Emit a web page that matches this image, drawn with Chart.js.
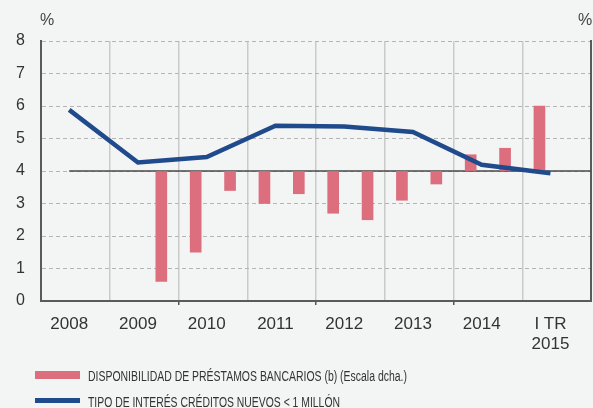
<!DOCTYPE html>
<html>
<head>
<meta charset="utf-8">
<script src="https://cdn.jsdelivr.net/npm/chart.js@4.4.0/dist/chart.umd.min.js"></script>
<style>
  html, body { margin: 0; padding: 0; background: #f3f4f4; }
  #wrap { position: relative; width: 593px; height: 408px; overflow: hidden; }
  #c { position: absolute; left: 0; top: 0; }
  .box { position: absolute; left: 35px; width: 45px; }
  .txt { position: absolute; left: 88px; font-family: "Liberation Sans", Arial, sans-serif;
         font-size: 14px; color: #333; white-space: nowrap; line-height: 1; transform-origin: 0 0; }
</style>
</head>
<body>
<div id="wrap">
  <canvas id="c" width="593" height="408"></canvas>
  <div class="box" style="top:371px;height:8px;background:#dc6e7e"></div>
  <div class="txt" id="t1" data-w="319" style="top:369px">DISPONIBILIDAD DE PRÉSTAMOS BANCARIOS (b) (Escala dcha.)</div>
  <div class="box" style="top:398px;height:5px;background:#1f4a8c"></div>
  <div class="txt" id="t2" data-w="252" style="top:395px">TIPO DE INTERÉS CRÉDITOS NUEVOS &lt; 1 MILLÓN</div>
</div>
<script>
// years on the axis (one column each)
const years = ['2008', '2009', '2010', '2011', '2012', '2013', '2014', ['I TR', '2015']];
// interest rate on new loans < 1 million, %, left scale
const tipoInteres = [5.88, 4.26, 4.43, 5.39, 5.37, 5.20, 4.19, 3.93];
// half-year periods for the loan availability bars
const periodos = ['2009 S2', '2010 S1', '2010 S2', '2011 S1', '2011 S2', '2012 S1', '2012 S2',
                  '2013 S1', '2013 S2', '2014 S1', '2014 S2', '2015 T1'];
// availability of bank loans, right scale (net %)
const disponibilidad = [-34, -25, -6, -10, -7, -13, -15, -9, -4, 5, 7, 20];

const LABEL_POS = 0.41;   // where the year label sits inside its column
const FIRST_BAR = 1.75;   // second half of 2009
const isInt = v => Math.abs(v - Math.round(v)) < 1e-6;

const linePts = tipoInteres.map((v, i) => ({ x: i + LABEL_POS, y: v }));
const barPts = disponibilidad.map((v, i) => ({ x: FIRST_BAR + i * 0.5, y: v }));

// squeeze the legend text to the condensed width of the original
document.querySelectorAll('.txt').forEach(el => {
  const w = el.getBoundingClientRect().width;
  el.style.transform = 'scaleX(' + (el.dataset.w / w) + ')';
});

const extras = {
  id: 'extras',
  beforeDatasetsDraw(chart) {
    const { ctx, chartArea, scales } = chart;
    const y0 = scales.y2.getPixelForValue(0);
    ctx.save();
    ctx.strokeStyle = '#4a4a4a';
    ctx.lineWidth = 1.5;
    ctx.beginPath();
    ctx.moveTo(scales.x.getPixelForValue(LABEL_POS), y0);
    ctx.lineTo(chartArea.right, y0);
    ctx.stroke();
    ctx.restore();
  },
  afterDraw(chart) {
    const ctx = chart.ctx;
    ctx.save();
    ctx.fillStyle = '#444';
    ctx.font = '16px "Liberation Sans", Arial, sans-serif';
    ctx.textAlign = 'center';
    ctx.textBaseline = 'middle';
    ctx.fillText('%', 47, 21);
    ctx.fillText('%', 585, 21);
    ctx.restore();
  }
};

new Chart(document.getElementById('c'), {
  type: 'bar',
  data: {
    datasets: [
      {
        type: 'line',
        data: linePts,
        yAxisID: 'y',
        borderColor: '#1f4a8c',
        borderWidth: 4.5,
        pointRadius: 0,
        tension: 0,
        order: 1
      },
      {
        type: 'bar',
        data: barPts,
        yAxisID: 'y2',
        backgroundColor: '#dc6e7e',
        barThickness: 11,
        order: 2
      }
    ]
  },
  options: {
    responsive: false,
    animation: false,
    devicePixelRatio: 1,
    layout: { padding: { top: 41, left: 0, right: 0, bottom: 0 } },
    plugins: { legend: { display: false }, tooltip: { enabled: false } },
    scales: {
      x: {
        type: 'linear',
        min: 0,
        max: 8,
        offset: false,
        afterBuildTicks(axis) {
          const t = [];
          for (let k = 0; k <= 8; k++) t.push({ value: k });
          years.forEach((_, i) => t.push({ value: i + LABEL_POS }));
          t.sort((a, b) => a.value - b.value);
          axis.ticks = t;
        },
        afterFit(axis) {
          axis.height = 107;
          axis.paddingLeft = 0;
          axis.paddingRight = 0;
        },
        grid: {
          offset: false,
          color: c => (c.tick && isInt(c.tick.value) && c.tick.value > 0 && c.tick.value < 8) ? '#cacaca' : 'rgba(0,0,0,0)',
          lineWidth: 1.5,
          tickColor: c => (c.tick && [2, 4, 6].includes(c.tick.value)) ? '#555' : 'rgba(0,0,0,0)',
          tickLength: 4
        },
        border: { display: true, color: '#5a5a5a', width: 2 },
        ticks: {
          autoSkip: false,
          maxRotation: 0,
          padding: 9,
          color: '#333',
          font: { family: '"Liberation Sans", Arial, sans-serif', size: 17 },
          callback: v => isInt(v) ? '' : years[Math.round(v - LABEL_POS)]
        }
      },
      y: {
        position: 'left',
        min: 0,
        max: 8,
        afterFit(axis) { axis.width = 41; },
        grid: { color: '#b4b4b4', lineWidth: 1, drawTicks: false },
        border: { display: true, color: '#5a5a5a', width: 2, dash: [4, 3] },
        ticks: {
          stepSize: 1,
          padding: 16,
          color: '#333',
          font: { family: '"Liberation Sans", Arial, sans-serif', size: 16 }
        }
      },
      y2: {
        position: 'right',
        min: -40,
        max: 40,
        afterFit(axis) { axis.width = 2; },
        grid: { drawOnChartArea: false, drawTicks: false },
        border: { display: true, color: '#5a5a5a', width: 2 },
        ticks: { stepSize: 10, display: false }
      }
    }
  },
  plugins: [extras]
});
</script>
</body>
</html>
